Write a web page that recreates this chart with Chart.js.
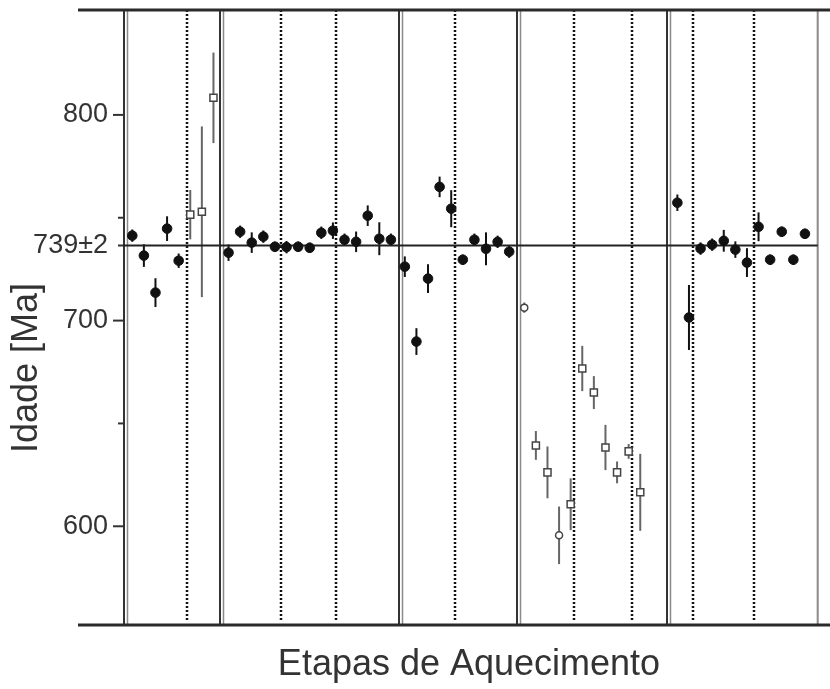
<!DOCTYPE html>
<html>
<head>
<meta charset="utf-8">
<script src="https://cdn.jsdelivr.net/npm/chart.js@4.4.1/dist/chart.umd.min.js"></script>
<style>
  body { margin: 0; background: #fff; }
  canvas { display: block; }
</style>
</head>
<body>
<canvas id="myChart" width="830" height="689"></canvas>
<script>
// heating step positions (along the x axis, in step units)
const stepPos = [
    1, 2, 3, 4, 5, 6, 7, 8,
    9.3, 10.3, 11.3, 12.3, 13.3, 14.3, 15.3, 16.3, 17.3, 18.3, 19.3, 20.3, 21.3, 22.3, 23.3,
    24.5, 25.5, 26.5, 27.5, 28.5, 29.5, 30.5, 31.5, 32.5, 33.5,
    34.8, 35.8, 36.8, 37.8, 38.8, 39.8, 40.8, 41.8, 42.8, 43.8, 44.8,
    48, 49, 50, 51, 52, 53, 54, 55, 56, 57, 58, 59
];
// apparent ages [Ma]
const ages = [
    741.3, 731.6, 713.6, 744.7, 729.1, 751.5, 752.9, 808.3,
    733.0, 743.2, 737.9, 740.8, 735.9, 735.7, 735.9, 735.4, 742.7, 743.7, 739.3, 738.3, 751.0, 739.8, 739.3,
    726.2, 689.8, 720.4, 765.0, 754.4, 729.6, 739.3, 734.9, 738.3, 733.5,
    706.3, 639.3, 626.2, 595.6, 610.7, 676.7, 665.0, 638.3, 626.2, 636.4, 616.5,
    757.3, 701.5, 735.0, 736.9, 738.8, 734.5, 728.2, 745.6, 729.6, 743.2, 729.6, 742.2
];
// error (+/-) [Ma]
const errs = [
    3, 5.5, 7, 6, 3.5, 12, 41.5, 22,
    4, 3, 5, 3, 2.5, 3, 2.5, 2.5, 3, 4, 3, 5, 5, 8, 3,
    5, 6.5, 7, 5, 9, 2.5, 3, 8, 3, 3,
    2.5, 7, 12.6, 14, 12.6, 11, 8, 11, 5.3, 3.6, 18.7,
    4, 15.8, 3, 3, 5.3, 4, 7, 7, 2.5, 2.5, 2.5, 2.5
];
// f = filled circle, s = open square, o = open circle
const kinds = [
    "f", "f", "f", "f", "f", "s", "s", "s",
    "f", "f", "f", "f", "f", "f", "f", "f", "f", "f", "f", "f", "f", "f", "f",
    "f", "f", "f", "f", "f", "f", "f", "f", "f", "f",
    "o", "s", "s", "o", "s", "s", "s", "s", "s", "s", "s",
    "f", "f", "f", "f", "f", "f", "f", "f", "f", "f", "f", "f"
];

const sampleBounds = [0.2, 8.5, 23.9, 34.1, 47.05];
const rightBound = 60.1;
const dottedPos = [5.68, 13.8, 18.6, 28.85, 39.1, 44.1, 49.35, 54.57];
const plateauAge = 736.5;
const plateauLabel = "739±2";
const yTicks = [600, 650, 700, 750, 800];
const yTickLabels = ["600", "", "700", "", "800"];

const xTitle = "Etapas de Aquecimento";
const yTitle = "Idade [Ma]";

function pointsOf(kind) {
    const out = [];
    stepPos.forEach((x, i) => {
        if (kinds[i] === kind) out.push({ x: x, y: ages[i] });
    });
    return out;
}

const allTicks = yTicks.concat([plateauAge]).sort((a, b) => a - b);

const decor = {
    id: "decor",
    beforeDatasetsDraw(chart) {
        const ctx = chart.ctx;
        const xs = chart.scales.x;
        const ys = chart.scales.y;
        const a = chart.chartArea;
        ctx.save();
        // double solid separators between samples
        sampleBounds.forEach((b) => {
            const px = Math.round(xs.getPixelForValue(b));
            ctx.lineWidth = 2;
            ctx.strokeStyle = "#333";
            ctx.beginPath();
            ctx.moveTo(px + 1, a.top);
            ctx.lineTo(px + 1, a.bottom);
            ctx.stroke();
            ctx.lineWidth = 1.5;
            ctx.strokeStyle = "#8a8a8a";
            ctx.beginPath();
            ctx.moveTo(px + 4.5, a.top);
            ctx.lineTo(px + 4.5, a.bottom);
            ctx.stroke();
        });
        const rb = xs.getPixelForValue(rightBound);
        ctx.lineWidth = 2;
        ctx.strokeStyle = "#8a8a8a";
        ctx.beginPath();
        ctx.moveTo(rb, a.top);
        ctx.lineTo(rb, a.bottom);
        ctx.stroke();
        // dotted separators
        ctx.setLineDash([2, 2]);
        ctx.lineWidth = 2.5;
        ctx.strokeStyle = "#111";
        dottedPos.forEach((d) => {
            const px = Math.round(xs.getPixelForValue(d));
            ctx.beginPath();
            ctx.moveTo(px, a.top);
            ctx.lineTo(px, a.bottom - 3);
            ctx.stroke();
        });
        ctx.setLineDash([]);
        // error bars
        stepPos.forEach((x, i) => {
            const px = xs.getPixelForValue(x);
            ctx.lineWidth = 2;
            ctx.strokeStyle = kinds[i] === "f" ? "#111" : "#666";
            ctx.beginPath();
            ctx.moveTo(px, ys.getPixelForValue(ages[i] - errs[i]));
            ctx.lineTo(px, ys.getPixelForValue(ages[i] + errs[i]));
            ctx.stroke();
        });
        ctx.restore();
    },
    afterDraw(chart) {
        const ctx = chart.ctx;
        const ys = chart.scales.y;
        const a = chart.chartArea;
        ctx.save();
        // frame lines top and bottom
        ctx.strokeStyle = "#2a2a2a";
        ctx.lineWidth = 3;
        [a.top, a.bottom].forEach((py) => {
            ctx.beginPath();
            ctx.moveTo(a.left - 45, py);
            ctx.lineTo(chart.width, py);
            ctx.stroke();
        });
        // tick marks
        ctx.lineWidth = 2;
        ctx.strokeStyle = "#333";
        allTicks.forEach((v) => {
            const py = ys.getPixelForValue(v);
            const len = v % 100 === 0 ? 10 : 5;
            ctx.beginPath();
            ctx.moveTo(a.left - len, py);
            ctx.lineTo(a.left, py);
            ctx.stroke();
        });
        // axis titles
        ctx.fillStyle = "#333";
        ctx.font = "36px 'Liberation Sans', Arial, sans-serif";
        ctx.textAlign = "center";
        ctx.textBaseline = "middle";
        ctx.fillText(xTitle, a.left + 346, a.bottom + 40);
        ctx.translate(27, a.top + 358);
        ctx.rotate(-Math.PI / 2);
        ctx.fillText(yTitle, 0, 0);
        ctx.restore();
    }
};

const config = {
    type: "scatter",
    data: {
        datasets: [
            {
                type: "line",
                data: [{ x: sampleBounds[0], y: plateauAge }, { x: rightBound, y: plateauAge }],
                borderColor: "#222",
                borderWidth: 2,
                pointRadius: 0,
                order: 10,
            },
            {
                data: pointsOf("f"),
                pointStyle: "circle",
                pointRadius: 4.8,
                backgroundColor: "#111",
                borderColor: "#111",
                borderWidth: 1,
                order: 1,
            },
            {
                data: pointsOf("s"),
                pointStyle: "rect",
                pointRadius: 5,
                backgroundColor: "#fff",
                borderColor: "#444",
                borderWidth: 1.5,
                order: 1,
            },
            {
                data: pointsOf("o"),
                pointStyle: "circle",
                pointRadius: 3.5,
                backgroundColor: "#fff",
                borderColor: "#444",
                borderWidth: 1.5,
                order: 1,
            },
        ],
    },
    options: {
        responsive: false,
        animation: false,
        layout: { padding: { top: 10, bottom: 64, left: 0, right: 0 } },
        plugins: { legend: { display: false }, tooltip: { enabled: false } },
        scales: {
            x: {
                type: "linear",
                display: false,
                min: 0.2,
                max: 60.6,
            },
            y: {
                type: "linear",
                min: 552,
                max: 851,
                afterFit(scale) {
                    scale.width = 123;
                    scale.paddingTop = 0;
                    scale.paddingBottom = 0;
                },
                afterBuildTicks(scale) {
                    scale.ticks = allTicks.map((v) => ({ value: v }));
                },
                grid: { display: false, drawTicks: false },
                border: { display: false },
                ticks: {
                    padding: 15,
                    color: "#333",
                    font: { family: "'Liberation Sans', Arial, sans-serif", size: 27 },
                    callback(value) {
                        if (value === plateauAge) return plateauLabel;
                        const i = yTicks.indexOf(value);
                        return i >= 0 ? yTickLabels[i] : "";
                    },
                },
            },
        },
    },
    plugins: [decor],
};

new Chart(document.getElementById("myChart"), config);
</script>
</body>
</html>
